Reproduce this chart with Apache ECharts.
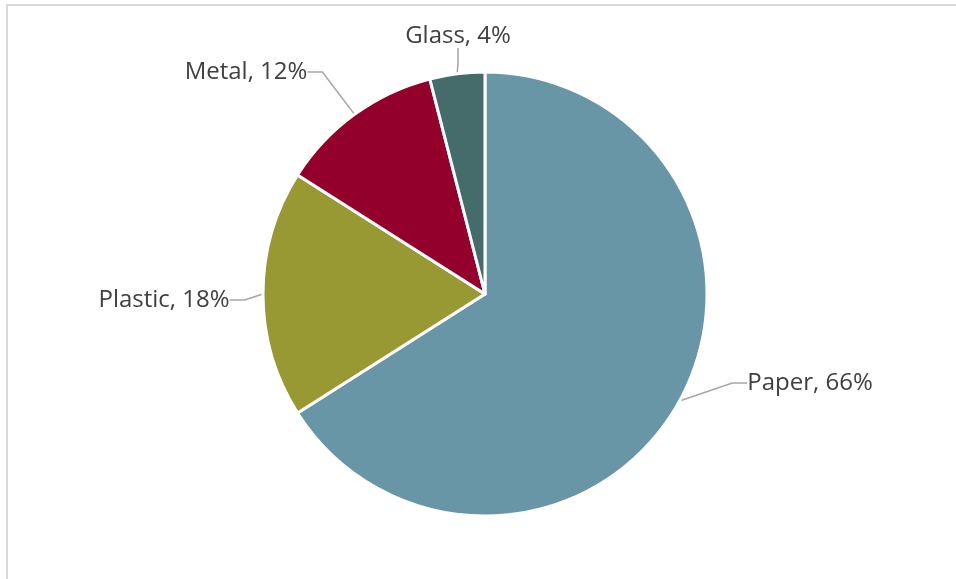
<!DOCTYPE html>
<html>
<head>
<meta charset="utf-8">
<script src="https://cdn.jsdelivr.net/npm/echarts@6/dist/echarts.min.js"></script>
<style>
html,body{margin:0;padding:0;background:#fff;}
#c{width:956px;height:579px;}
</style>
</head>
<body>
<div id="c"></div>
<script>
const categories = ['Paper', 'Plastic', 'Metal', 'Glass'];
const values = [66, 18, 12, 4];
const colors = ['#6896A6', '#999933', '#93002B', '#466B6B'];
// label text centres (px) for each slice, in category order
const labelSpots = [[810, 383], [164, 300], [246, 72], [458, 36]];

const chart = echarts.init(document.getElementById('c'));
chart.setOption({
  animation: false,
  graphic: [{
    type: 'rect',
    shape: { x: 7, y: 5, width: 1000, height: 600 },
    style: { fill: 'none', stroke: '#d9d9d9', lineWidth: 2 },
    silent: true
  }],
  series: [{
    type: 'pie',
    center: [485, 294],
    radius: 222,
    startAngle: 90,
    clockwise: true,
    data: categories.map((c, i) => ({ name: c, value: values[i], itemStyle: { color: colors[i] } })),
    itemStyle: { borderColor: '#ffffff', borderWidth: 3 },
    label: {
      show: true,
      formatter: p => p.name + ', ' + p.value + '%',
      fontFamily: 'Open Sans',
      fontSize: 24,
      color: '#404040'
    },
    labelLine: {
      show: true,
      length: 20,
      length2: 15,
      lineStyle: { color: '#a6a6a6', width: 1.5 }
    },
    labelLayout: function (params) {
      const s = labelSpots[params.dataIndex];
      return { x: s[0], y: s[1], align: 'center', verticalAlign: 'middle' };
    }
  }]
});
</script>
</body>
</html>
